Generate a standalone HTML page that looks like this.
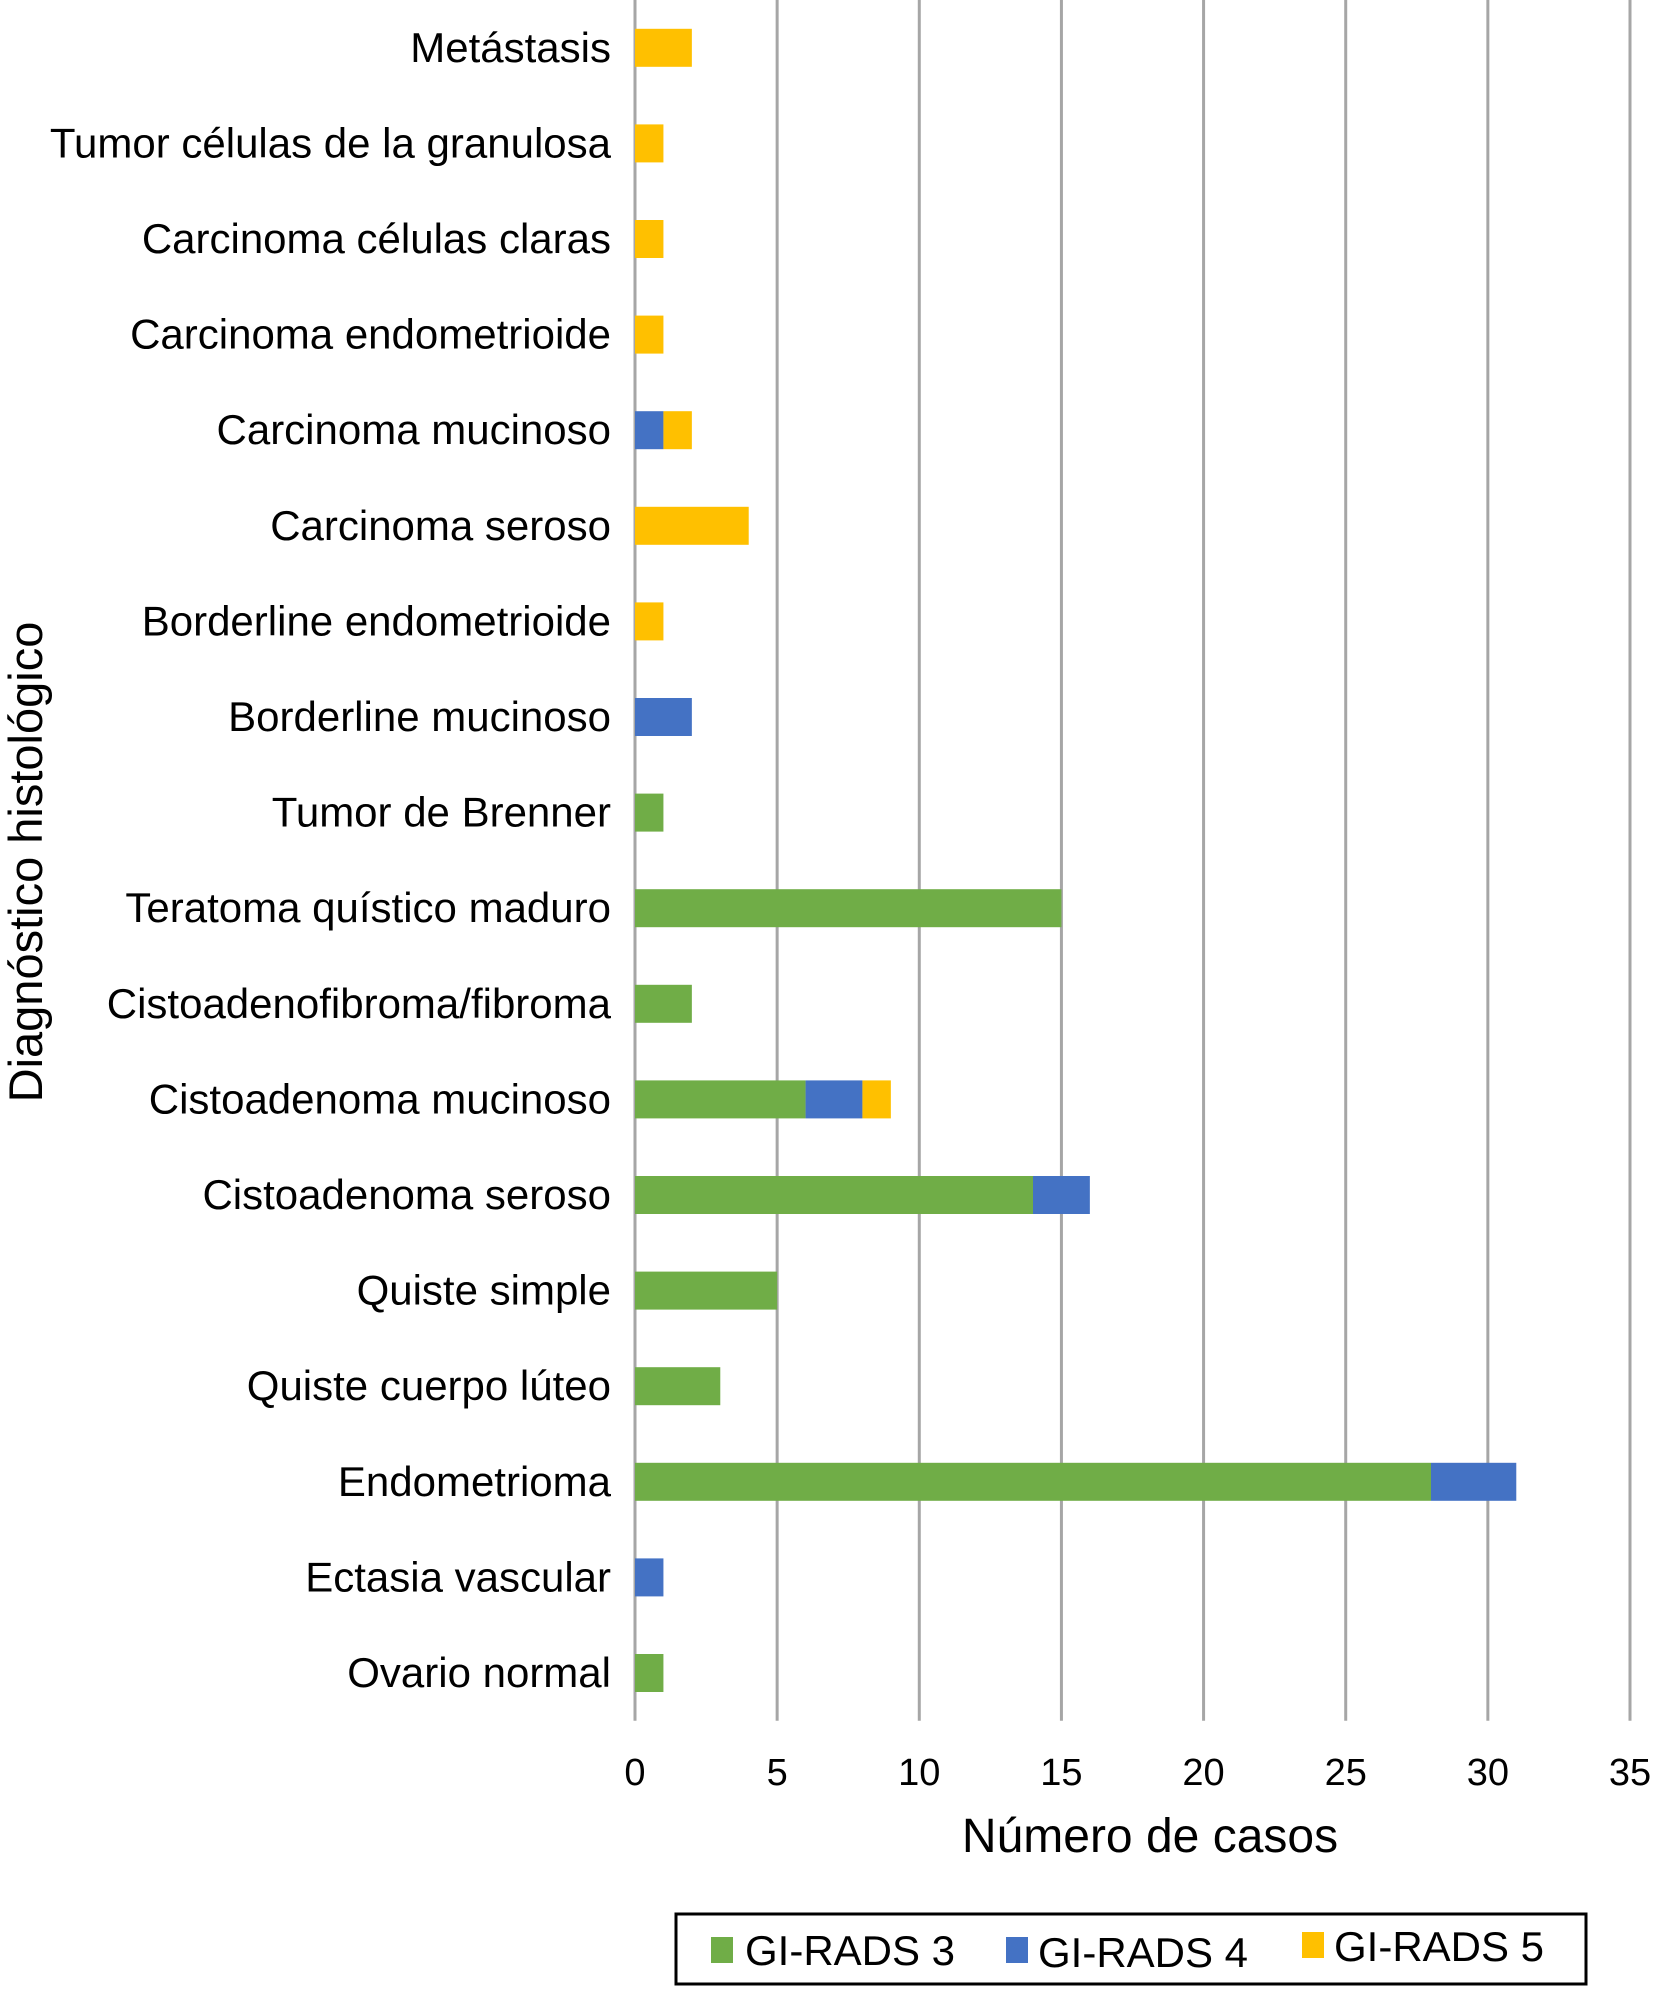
<!DOCTYPE html>
<html><head><meta charset="utf-8"><style>
body{margin:0;background:#fff}
svg{display:block;font-family:"Liberation Sans",Arial,sans-serif}
</style></head><body>
<svg id="chart" width="1654" height="1990" viewBox="0 0 1654 1990" xmlns="http://www.w3.org/2000/svg">
<g id="grid"></g>
<g id="bars"></g>
<g id="ylabels"></g>
<g id="xlabels"></g>
<text x="1150" y="1852" font-size="48" text-anchor="middle">Número de casos</text>
<text transform="translate(42,862) rotate(-90)" font-size="47" text-anchor="middle">Diagnóstico histológico</text>
<g>
<rect x="676" y="1914" width="910" height="70" fill="#fff" stroke="#000" stroke-width="3"/>
<rect x="711" y="1937" width="22" height="26" fill="#70ad47"/>
<text x="745" y="1965" font-size="42">GI-RADS 3</text>
<rect x="1006" y="1937" width="22" height="26" fill="#4472c4"/>
<text x="1038" y="1967" font-size="42">GI-RADS 4</text>
<rect x="1302" y="1932" width="22" height="26" fill="#ffc000"/>
<text x="1334" y="1961" font-size="42">GI-RADS 5</text>
</g>
</svg>
<script>
const categories = ["Metástasis","Tumor células de la granulosa","Carcinoma células claras","Carcinoma endometrioide","Carcinoma mucinoso","Carcinoma seroso","Borderline endometrioide","Borderline mucinoso","Tumor de Brenner","Teratoma quístico maduro","Cistoadenofibroma/fibroma","Cistoadenoma mucinoso","Cistoadenoma seroso","Quiste simple","Quiste cuerpo lúteo","Endometrioma","Ectasia vascular","Ovario normal"];
const giRads3 = [0,0,0,0,0,0,0,0,1,15,2,6,14,5,3,28,0,1];
const giRads4 = [0,0,0,0,1,0,0,2,0,0,0,2,2,0,0,3,1,0];
const giRads5 = [2,1,1,1,1,4,1,0,0,0,0,1,0,0,0,0,0,0];
const xTicks = [0,5,10,15,20,25,30,35];
const seriesNames = ["gi-rads-3","gi-rads-4","gi-rads-5"];
const seriesColors = ["#70ad47","#4472c4","#ffc000"];

const NS="http://www.w3.org/2000/svg";
const X0=635, X1=1630, XMAX=35, YTOP=0, BAND=95.6;
function xs(v){return X0+(X1-X0)*v/XMAX;}
function yc(i){return YTOP+BAND*(i+0.5);}
function mk(t,a){const e=document.createElementNS(NS,t);for(const k in a)e.setAttribute(k,a[k]);return e;}
const grid=document.getElementById('grid'),bars=document.getElementById('bars'),yl=document.getElementById('ylabels'),xl=document.getElementById('xlabels');
const plotBottom=yc(categories.length-1)+BAND/2;
xTicks.forEach(t=>{
  const l=mk('line',{x1:xs(t),x2:xs(t),y1:0,y2:plotBottom,stroke:'#a6a6a6','stroke-width':3});
  
  
  grid.appendChild(l);
  const tx=mk('text',{x:xs(t),y:plotBottom+64,'font-size':38,'text-anchor':'middle'});
  tx.textContent=t;
  
  
  xl.appendChild(tx);
});
const series=[giRads3,giRads4,giRads5];
categories.forEach((c,i)=>{
  let acc=0;
  series.forEach((s,k)=>{
    const v=s[i];
    if(v>0){
      const r=mk('rect',{x:xs(acc),y:yc(i)-19,width:xs(acc+v)-xs(acc),height:38,fill:seriesColors[k]});
      
      
      bars.appendChild(r);
    }
    acc+=v;
  });
  const t=mk('text',{x:611,y:yc(i)+14,'font-size':42,'text-anchor':'end'});
  t.textContent=c;
  
  
  yl.appendChild(t);
});
</script>
</body></html>
